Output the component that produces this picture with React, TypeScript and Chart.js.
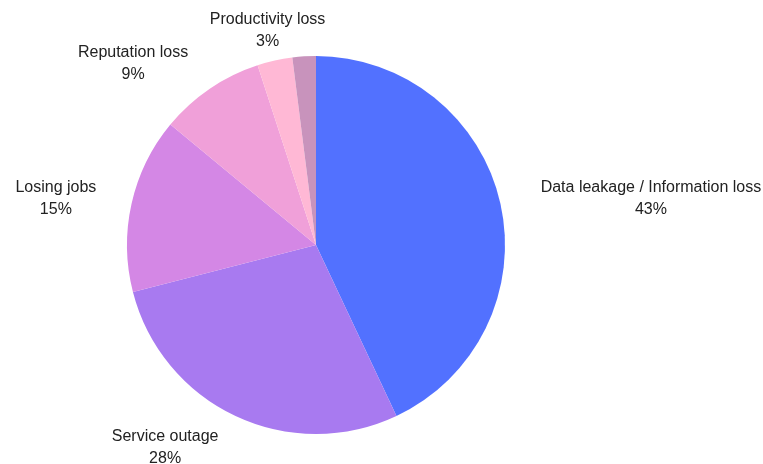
import React, { useEffect, useRef } from "react";
import { Chart, registerables } from "chart.js";

Chart.register(...registerables);

const categories = [
  "Data leakage / Information loss",
  "Service outage",
  "Losing jobs",
  "Reputation loss",
  "Productivity loss",
  "Other",
];
const values = [43, 28, 15, 9, 3, 2];
const showLabel = [true, true, true, true, true, false];
const colors = ["#5271FF", "#A87AF0", "#D487E5", "#F0A0D9", "#FFB8D5", "#C893BC"];

const labelPlugin = {
  id: "outsideLabels",
  afterDatasetsDraw(chart: any) {
    const ctx = chart.ctx;
    const meta = chart.getDatasetMeta(0);
    ctx.save();
    ctx.font = "16px 'Liberation Sans', Arial, sans-serif";
    ctx.fillStyle = "#222222";
    ctx.textBaseline = "middle";
    const total = values.reduce((a, b) => a + b, 0);
    meta.data.forEach((arc: any, i: number) => {
      if (!showLabel[i]) return;
      const { x, y, startAngle, endAngle, outerRadius } = arc.getProps(
        ["x", "y", "startAngle", "endAngle", "outerRadius"],
        true
      );
      const mid = (startAngle + endAngle) / 2;
      const R = outerRadius + 33;
      const ax = x + Math.cos(mid) * R;
      const ay = y + Math.sin(mid) * R;
      const lines = [categories[i], Math.round((values[i] / total) * 100) + "%"];
      const w = Math.max(...lines.map((l) => ctx.measureText(l).width));
      const lh = 22;
      const h = lh * lines.length;
      const fromVertical = Math.abs(Math.cos(mid));
      let cx: number;
      if (fromVertical < 0.3) cx = ax;
      else if (Math.cos(mid) > 0) cx = ax + 8 + w / 2;
      else cx = ax - 3 - w / 2;
      const cy = ay + 2;
      ctx.textAlign = "center";
      lines.forEach((l, k) => {
        ctx.fillText(l, cx, cy - h / 2 + lh / 2 + k * lh);
      });
    });
    ctx.restore();
  },
};

export default function App() {
  const ref = useRef<HTMLCanvasElement>(null);
  useEffect(() => {
    if (!ref.current) return;
    const chart = new Chart(ref.current, {
      type: "pie",
      data: {
        labels: categories,
        datasets: [
          {
            data: values,
            backgroundColor: colors,
            borderWidth: 0,
          },
        ],
      },
      options: {
        animation: false,
        responsive: true,
        maintainAspectRatio: false,
        layout: { padding: { top: 56, bottom: 30, left: 127, right: 258 } },
        plugins: {
          legend: { display: false },
          tooltip: { enabled: false },
        },
      },
      plugins: [labelPlugin],
    });
    return () => chart.destroy();
  }, []);
  return (
    <div style={{ position: "fixed", left: 0, top: 0, width: 763, height: 464, background: "#fff" }}>
      <canvas ref={ref} />
    </div>
  );
}
